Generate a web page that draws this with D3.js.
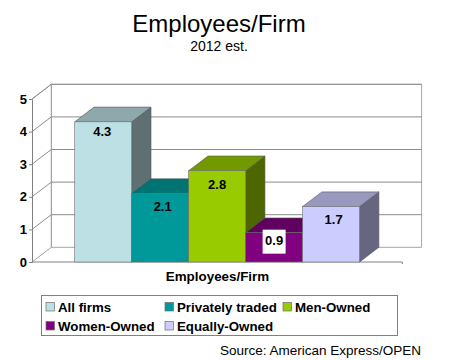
<!DOCTYPE html>
<html>
<head>
<meta charset="utf-8">
<script src="https://cdn.jsdelivr.net/npm/d3@7"></script>
<style>
  html, body { margin: 0; padding: 0; background: #fff; }
  text { font-family: "Liberation Sans", Arial, sans-serif; fill: #000; }
</style>
</head>
<body>
<script>
const WIDTH = 450;
const HEIGHT = 360;

// Values
const categories = ["All firms", "Privately traded", "Men-Owned", "Women-Owned", "Equally-Owned"];
const values = [4.3, 2.1, 2.8, 0.9, 1.7];
const labels = ["4.3", "2.1", "2.8", "0.9", "1.7"];
const yTicks = [0, 1, 2, 3, 4, 5];
const frontColors = ["#bde0e4", "#009999", "#99cc00", "#800080", "#ccccff"];
const topColors = ["#8ea8ab", "#007373", "#739900", "#600060", "#9999bf"];
const sideColors = ["#5e7072", "#004d4d", "#4d6600", "#400040", "#666680"];

// Hand placed data labels, offset from the bar's top centre like in the original
const labelDx = [-1, 2.5, 0, 0, 2.5];
const labelDy = [14.5, 17.5, 18.5, 12.5, 17.5];

// Plot box
const X0 = 32, X1 = 402.3, Y0 = 262, Y5 = 99;
// Depth offset of the 3D box
const DX = 19.3, DY = -14.7;
const GRID = "#8c8c8c";

const svg = d3.select("body")
    .append("svg")
    .attr("width", WIDTH)
    .attr("height", HEIGHT)
    .style("display", "block");

const x = d3.scaleBand()
    .domain(categories)
    .range([X0, X1])
    .paddingInner(0)
    .paddingOuter(0.75);

const y = d3.scaleLinear()
    .domain([0, 5])
    .range([Y0, Y5]);

/**
 * Titles
 */
svg.append("text")
    .attr("x", 219)
    .attr("y", 32)
    .attr("text-anchor", "middle")
    .attr("font-size", 24)
    .text("Employees/Firm");

svg.append("text")
    .attr("x", 219)
    .attr("y", 51)
    .attr("text-anchor", "middle")
    .attr("font-size", 14)
    .text("2012 est.");

/**
 * Walls and gridlines
 */
const walls = svg.append("g");

walls.append("path")
    .attr("d", `M${X0},${y(0)}L${X0 + DX},${y(0) + DY}L${X1 + DX},${y(0) + DY}L${X1 + DX},${y(5) + DY}L${X0 + DX},${y(5) + DY}L${X0},${y(5)}`)
    .attr("fill", "#fff")
    .attr("stroke", "#a6a6a6")
    .attr("stroke-width", 1);

walls.selectAll(".grid")
    .data(yTicks.slice(1))
    .join("path")
    .attr("class", "grid")
    .attr("fill", "none")
    .attr("stroke", GRID)
    .attr("stroke-width", 1)
    .attr("d", d => `M${X0},${y(d)}L${X0 + DX},${y(d) + DY}L${X1 + DX},${y(d) + DY}`);

walls.append("path")
    .attr("d", `M${X0 + DX},${y(5) + DY}V${y(0) + DY}`)
    .attr("stroke", GRID)
    .attr("fill", "none");

// Floor front edge with the little end tick
walls.append("path")
    .attr("d", `M${X0},${y(0)}H${X1}V${y(0) + 2}`)
    .attr("stroke", "#808080")
    .attr("fill", "none");

/**
 * Y axis
 */
const yAxis = svg.append("g")
    .attr("transform", `translate(${X0},0)`)
    .call(d3.axisLeft(y).tickValues(yTicks).tickFormat(d3.format("d")).tickSize(3).tickPadding(2));

yAxis.select(".domain").attr("stroke", "#808080");
yAxis.selectAll("line").attr("stroke", "#808080");
yAxis.selectAll("text")
    .attr("font-size", 13)
    .attr("font-weight", "bold")
    .attr("font-family", "'Liberation Sans', Arial, sans-serif");

/**
 * Bars, drawn back to front so side faces overlap properly
 */
const bars = svg.append("g")
    .selectAll("g")
    .data(categories)
    .join("g");

const bw = x.bandwidth();

bars.append("path")
    .attr("fill", (d, i) => sideColors[i])
    .attr("stroke", "#555")
    .attr("stroke-width", 0.6)
    .attr("d", (d, i) => {
        const l = x(d) + bw, t = y(values[i]);
        return `M${l},${t}L${l + DX},${t + DY}L${l + DX},${y(0) + DY}L${l},${y(0)}Z`;
    });

bars.append("path")
    .attr("fill", (d, i) => topColors[i])
    .attr("stroke", "#555")
    .attr("stroke-width", 0.6)
    .attr("d", (d, i) => {
        const l = x(d), t = y(values[i]);
        return `M${l},${t}L${l + DX},${t + DY}L${l + bw + DX},${t + DY}L${l + bw},${t}Z`;
    });

bars.append("rect")
    .attr("x", d => x(d))
    .attr("y", (d, i) => y(values[i]))
    .attr("width", bw)
    .attr("height", (d, i) => y(0) - y(values[i]))
    .attr("fill", (d, i) => frontColors[i])
    .attr("stroke", "#6e6e6e")
    .attr("stroke-width", 0.6);

// White box behind the one label sitting on a dark bar
svg.append("rect")
    .attr("x", x(categories[3]) + bw / 2 - 11.5)
    .attr("y", y(values[3]) - 3)
    .attr("width", 23)
    .attr("height", 24)
    .attr("fill", "#fff");

svg.append("g")
    .selectAll("text")
    .data(categories)
    .join("text")
    .attr("x", (d, i) => x(d) + bw / 2 + labelDx[i])
    .attr("y", (d, i) => y(values[i]) + labelDy[i])
    .attr("text-anchor", "middle")
    .attr("font-size", 13)
    .attr("font-weight", "bold")
    .text((d, i) => labels[i]);

svg.append("text")
    .attr("x", 217.5)
    .attr("y", 281)
    .attr("text-anchor", "middle")
    .attr("font-size", 13.4)
    .attr("font-weight", "bold")
    .text("Employees/Firm");

/**
 * Legend
 */
svg.append("rect")
    .attr("x", 41.5)
    .attr("y", 295.5)
    .attr("width", 356)
    .attr("height", 40)
    .attr("fill", "#fff")
    .attr("stroke", "#808080");

const legendX = [46, 165, 283, 46, 165];
const legendY = [307, 307, 307, 326, 326];

const legend = svg.append("g")
    .selectAll("g")
    .data(categories)
    .join("g")
    .attr("transform", (d, i) => `translate(${legendX[i]},${legendY[i]})`);

legend.append("rect")
    .attr("x", 0)
    .attr("y", -4.5)
    .attr("width", 8.5)
    .attr("height", 8.5)
    .attr("fill", (d, i) => frontColors[i])
    .attr("stroke", "#6e6e6e")
    .attr("stroke-width", 0.7);

legend.append("text")
    .attr("x", 12)
    .attr("y", 5)
    .attr("font-size", 13.3)
    .attr("font-weight", "bold")
    .text(d => d);

svg.append("text")
    .attr("x", 421)
    .attr("y", 355)
    .attr("text-anchor", "end")
    .attr("font-size", 13.5)
    .text("Source: American Express/OPEN");
</script>
</body>
</html>
